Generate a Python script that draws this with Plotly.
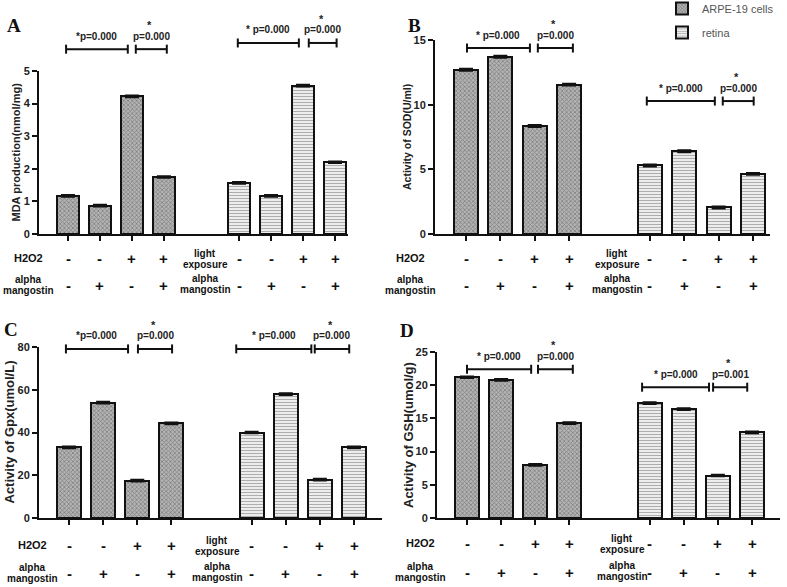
import plotly.graph_objects as go

W, H = 787, 587

# ---------------- data ----------------
groups = ["ARPE-19 cells", "retina"]
conditions = ["control", "alpha mangostin", "stress", "stress + alpha mangostin"]
mda_arpe = [1.17, 0.87, 4.22, 1.75]
mda_retina = [1.57, 1.17, 4.55, 2.20]
sod_arpe = [12.7, 13.7, 8.35, 11.55]
sod_retina = [5.3, 6.4, 2.05, 4.65]
gpx_arpe = [33.0, 54.0, 17.5, 44.3]
gpx_retina = [40.0, 58.0, 18.0, 33.0]
gsh_arpe = [21.2, 20.8, 8.0, 14.3]
gsh_retina = [17.3, 16.4, 6.4, 12.9]
row1_signs = ["-", "-", "+", "+"]
row2_signs = ["-", "+", "-", "+"]
pA = ["*p=0.000", "p=0.000", "* p=0.000", "p=0.000"]
pB = ["* p=0.000", "p=0.000", "* p=0.000", "p=0.000"]
pC = ["*p=0.000", "p=0.000", "* p=0.000", "p=0.000"]
pD = ["* p=0.000", "p=0.000", "* p=0.000", "p=0.001"]
ytitles = ["MDA production(nmol/mg)", "Activity of SOD(U/ml)",
           "Activity of Gpx(umol/L)", "Activity of GSH(umol/g)"]
letters = ["A", "B", "C", "D"]
row_label_1 = "H2O2"
row_label_light = ["light", "exposure"]
row_label_2 = ["alpha", "mangostin"]

# ---------------- layout helpers ----------------
pos_arpe = [0, 1, 2, 3]
pos_ret = [5.35, 6.35, 7.35, 8.35]
positions = pos_arpe + pos_ret

def px_x(p):
    return p / W

def px_y(p):
    return 1 - p / H

# panel geometry in pixels: axis_left, axis_right, bar1, bar8, top, bottom
panels = [
    dict(g=(39, 348, 68, 335, 71, 234), ymax=5, dtick=1, arpe=mda_arpe, ret=mda_retina, p=pA,
         br=[(-0.06, 1.87, 5.67), (2.12, 3.09, 5.67), (5.31, 7.22, 5.86), (7.53, 8.4, 5.86)],
         lab=(29, 205), ttl=(15, 11), let=(14, 25), rows=(-24, -51)),
    dict(g=(435, 770, 466, 753, 40, 234), ymax=15, dtick=5, arpe=sod_arpe, ret=sod_retina, p=pB,
         br=[(0.03, 1.86, 14.38), (2.09, 3.11, 14.38), (5.26, 7.24, 10.28), (7.47, 8.37, 10.28)],
         lab=(410, 617), ttl=(407, 10.5), let=(414, 25), rows=(-24, -51)),
    dict(g=(39, 382, 69, 354, 347, 518), ymax=80, dtick=20, arpe=gpx_arpe, ret=gpx_retina, p=pC,
         br=[(-0.09, 1.73, 79.1), (2.02, 3.02, 79.1), (4.9, 7.1, 79.1), (7.2, 8.21, 79.1)],
         lab=(32, 217), ttl=(9, 13), let=(11, 329), rows=(-27, -55)),
    dict(g=(437, 780, 467, 752, 352, 518), ymax=25, dtick=5, arpe=gsh_arpe, ret=gsh_retina, p=pD,
         br=[(0.0, 1.88, 22.4), (2.08, 3.1, 22.4), (5.13, 7.09, 19.7), (7.21, 8.21, 19.7)],
         lab=(421, 622), ttl=(408, 13), let=(407, 330), rows=(-25, -54)),
]

BOLD = "Liberation Sans"
NARROW = "Liberation Sans Narrow, Arial Narrow, Liberation Sans"

fig = go.Figure()
annotations = []
shapes = []

def ann(**kw):
    kw.setdefault("showarrow", False)
    kw.setdefault("xanchor", "center")
    kw.setdefault("yanchor", "middle")
    annotations.append(kw)

for i, P in enumerate(panels):
    n = i + 1
    xa = "x" if n == 1 else f"x{n}"
    ya = "y" if n == 1 else f"y{n}"
    al, ar, b1, b8, top, bot = P["g"]
    sp = (b8 - b1) / (pos_ret[-1] - pos_arpe[0])
    r0 = -(b1 - al) / sp
    r1 = pos_ret[-1] + (ar - b8) / sp
    hpx = bot - top
    ymax = P["ymax"]

    fig.add_trace(go.Bar(
        x=pos_arpe, y=P["arpe"], width=0.7, name=groups[0], xaxis=xa, yaxis=ya,
        marker=dict(color="#8a8a8a", line=dict(color="#111", width=2),
                    pattern=dict(shape="x", size=3, solidity=0.45, fgcolor="#4a4a4a", bgcolor="#b4b4b4")),
        error_y=dict(type="constant", value=ymax * 0.005, color="#111", thickness=2, width=7),
        showlegend=(i == 0), legend="legend"))
    fig.add_trace(go.Bar(
        x=pos_ret, y=P["ret"], width=0.7, name=groups[1], xaxis=xa, yaxis=ya,
        marker=dict(color="white", line=dict(color="#111", width=2),
                    pattern=dict(shape="-", size=3, solidity=0.4, fgcolor="#666", bgcolor="#f4f4f4")),
        error_y=dict(type="constant", value=ymax * 0.005, color="#111", thickness=2, width=7),
        showlegend=(i == 0), legend="legend2"))

    fig.layout[("xaxis" if n == 1 else f"xaxis{n}")] = dict(
        domain=[px_x(al), px_x(ar)], range=[r0, r1], anchor=ya,
        showline=True, linewidth=2, linecolor="#111", ticks="outside", ticklen=5,
        tickwidth=2, tickcolor="#111", tickvals=positions, showticklabels=False,
        showgrid=False, zeroline=False)
    fig.layout[("yaxis" if n == 1 else f"yaxis{n}")] = dict(
        domain=[px_y(bot), px_y(top)], range=[0, ymax], anchor=xa,
        showline=True, linewidth=2, linecolor="#111", ticks="outside", ticklen=5,
        tickwidth=2, tickcolor="#111", dtick=P["dtick"], showgrid=False, zeroline=False,
        tickfont=dict(family=BOLD, size=11, color="#222", weight="bold"))

    xd = xa + " domain"
    yd = ya + " domain"

    def fx(v):
        return (v - r0) / (r1 - r0)

    # brackets
    for k, (x0, x1, yv) in enumerate(P["br"]):
        yf = yv / ymax
        tk = 4.5 / hpx
        shapes.append(dict(type="line", xref=xd, yref=yd, x0=fx(x0), x1=fx(x1), y0=yf, y1=yf,
                           line=dict(color="#111", width=2)))
        for xx in (x0, x1):
            shapes.append(dict(type="line", xref=xd, yref=yd, x0=fx(xx), x1=fx(xx),
                               y0=yf - tk, y1=yf + tk, line=dict(color="#111", width=2)))
        ann(xref=xa, yref=yd, x=(x0 + x1) / 2, y=yf, yshift=13, text=P["p"][k],
            font=dict(family=NARROW, size=10, color="#222", weight="bold"))
        if k % 2 == 1:
            ann(xref=xa, yref=yd, x=(x0 + x1) / 2 - 0.05, y=yf, yshift=24, text="*",
                font=dict(family=BOLD, size=11, color="#222", weight="bold"))

    # sign rows
    for j in range(4):
        for grp in (pos_arpe, pos_ret):
            ann(xref=xa, yref=yd, x=grp[j], y=0, yshift=P["rows"][0], text=row1_signs[j],
                font=dict(family=BOLD, size=15, color="#111", weight="bold"))
            ann(xref=xa, yref=yd, x=grp[j], y=0, yshift=P["rows"][1], text=row2_signs[j],
                font=dict(family=BOLD, size=15, color="#111", weight="bold"))
    lx0, lx1 = P["lab"]
    lf = dict(family=NARROW, size=10, color="#111", weight="bold")
    ann(xref="paper", yref=yd, x=px_x(lx0), y=0, yshift=P["rows"][0], text=row_label_1,
        font=dict(family=NARROW, size=11, color="#111", weight="bold"))
    for (lx, words, base) in ((lx0, row_label_2, P["rows"][1]),
                              (lx1, row_label_light, P["rows"][0] - 1),
                              (lx1, row_label_2, P["rows"][1] + 1)):
        ann(xref="paper", yref=yd, x=px_x(lx), y=0, yshift=base + 5.5, text=words[0], font=lf)
        ann(xref="paper", yref=yd, x=px_x(lx), y=0, yshift=base - 5.5, text=words[1], font=lf)
    # y title
    ann(xref="paper", yref=yd, x=px_x(P["ttl"][0]), y=0.5, textangle=-90, text=ytitles[i],
        font=dict(family=BOLD, size=P["ttl"][1], color="#222", weight="bold"))
    # panel letter
    ann(xref="paper", yref="paper", x=px_x(P["let"][0]), y=px_y(P["let"][1]), text=letters[i],
        font=dict(family="Liberation Serif", size=19, color="#111", weight="bold"))

fig.update_layout(
    width=W, height=H, margin=dict(l=0, r=0, t=0, b=0, autoexpand=False),
    paper_bgcolor="white", plot_bgcolor="white",
    annotations=annotations, shapes=shapes, bargap=0,
    legend=dict(x=px_x(662), y=px_y(-6), xanchor="left", yanchor="top",
                font=dict(family="Liberation Sans", size=11, color="#555"), bgcolor="rgba(0,0,0,0)"),
    legend2=dict(x=px_x(662), y=px_y(18), xanchor="left", yanchor="top",
                 font=dict(family="Liberation Sans", size=11, color="#555"), bgcolor="rgba(0,0,0,0)"),
)

fig.write_html("out.html", config={"displayModeBar": False},
               post_script="document.body.style.margin='0';document.body.style.overflow='hidden';")
